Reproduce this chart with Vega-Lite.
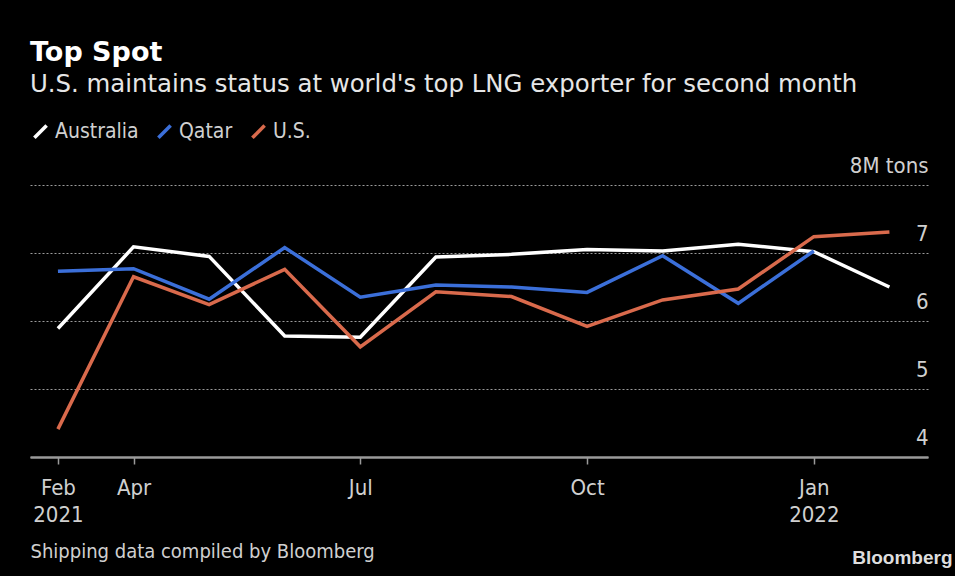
{
  "$schema": "https://vega.github.io/schema/vega-lite/v6.json",
  "width": 898,
  "height": 272,
  "autosize": {"type": "none"},
  "padding": {"left": 30, "top": 185, "right": 27, "bottom": 119},
  "background": "#000000",
  "title": {
    "text": "Top Spot",
    "subtitle": "U.S. maintains status at world's top LNG exporter for second month",
    "anchor": "start",
    "frame": "group",
    "font": "DejaVu Sans",
    "fontSize": 27,
    "fontWeight": "bold",
    "color": "#ffffff",
    "subtitleFont": "DejaVu Sans",
    "subtitleFontSize": 24.4,
    "subtitleColor": "#e6e6e6",
    "subtitlePadding": 6,
    "offset": 24
  },
  "data": {
    "values": [
      {"month": "2021-02", "country": "Australia", "tons": 5.89},
      {"month": "2021-04", "country": "Australia", "tons": 7.09},
      {"month": "2021-05", "country": "Australia", "tons": 6.95},
      {"month": "2021-06", "country": "Australia", "tons": 5.78},
      {"month": "2021-07", "country": "Australia", "tons": 5.76},
      {"month": "2021-08", "country": "Australia", "tons": 6.94},
      {"month": "2021-09", "country": "Australia", "tons": 6.98},
      {"month": "2021-10", "country": "Australia", "tons": 7.05},
      {"month": "2021-11", "country": "Australia", "tons": 7.03},
      {"month": "2021-12", "country": "Australia", "tons": 7.13},
      {"month": "2022-01", "country": "Australia", "tons": 7.02},
      {"month": "2022-02", "country": "Australia", "tons": 6.5},
      {"month": "2021-02", "country": "Qatar", "tons": 6.73},
      {"month": "2021-04", "country": "Qatar", "tons": 6.77},
      {"month": "2021-05", "country": "Qatar", "tons": 6.32},
      {"month": "2021-06", "country": "Qatar", "tons": 7.08},
      {"month": "2021-07", "country": "Qatar", "tons": 6.35},
      {"month": "2021-08", "country": "Qatar", "tons": 6.53},
      {"month": "2021-09", "country": "Qatar", "tons": 6.5},
      {"month": "2021-10", "country": "Qatar", "tons": 6.42},
      {"month": "2021-11", "country": "Qatar", "tons": 6.96},
      {"month": "2021-12", "country": "Qatar", "tons": 6.26},
      {"month": "2022-01", "country": "Qatar", "tons": 7.03},
      {"month": "2021-02", "country": "U.S.", "tons": 4.41},
      {"month": "2021-04", "country": "U.S.", "tons": 6.65},
      {"month": "2021-05", "country": "U.S.", "tons": 6.24},
      {"month": "2021-06", "country": "U.S.", "tons": 6.76},
      {"month": "2021-07", "country": "U.S.", "tons": 5.62},
      {"month": "2021-08", "country": "U.S.", "tons": 6.43},
      {"month": "2021-09", "country": "U.S.", "tons": 6.36},
      {"month": "2021-10", "country": "U.S.", "tons": 5.92},
      {"month": "2021-11", "country": "U.S.", "tons": 6.31},
      {"month": "2021-12", "country": "U.S.", "tons": 6.47},
      {"month": "2022-01", "country": "U.S.", "tons": 7.24},
      {"month": "2022-02", "country": "U.S.", "tons": 7.31}
    ]
  },
  "mark": {"type": "line", "strokeWidth": 3.5, "strokeJoin": "miter"},
  "encoding": {
    "x": {
      "field": "month",
      "type": "ordinal",
      "scale": {"type": "point", "padding": 0.44, "align": 0.42},
      "axis": {
        "values": ["2021-02", "2021-04", "2021-07", "2021-10", "2022-01"],
        "labelExpr": "datum.value == '2021-02' ? ['Feb', '2021'] : datum.value == '2022-01' ? ['Jan', '2022'] : datum.value == '2021-04' ? 'Apr' : datum.value == '2021-07' ? 'Jul' : 'Oct'",
        "labelAngle": 0,
        "labelFont": "DejaVu Sans Condensed, Liberation Sans Narrow, DejaVu Sans",
        "labelFontSize": 22,
        "labelColor": "#d0d0d0",
        "labelLineHeight": 27,
        "labelPadding": 13,
        "domainColor": "#9a9a9a",
        "domainWidth": 2.5,
        "tickColor": "#9a9a9a",
        "tickWidth": 1.5,
        "tickSize": 7,
        "grid": false,
        "title": "Shipping data compiled by Bloomberg",
        "titleFont": "DejaVu Sans Condensed, Liberation Sans Narrow, DejaVu Sans",
        "titleFontSize": 20,
        "titleFontWeight": "normal",
        "titleColor": "#d0d0d0",
        "titleAnchor": "start",
        "titleAlign": "left",
        "titlePadding": 16
      }
    },
    "y": {
      "field": "tons",
      "type": "quantitative",
      "scale": {"domain": [4, 8]},
      "axis": {
        "orient": "right",
        "values": [4, 5, 6, 7, 8],
        "labelExpr": "datum.value == 8 ? '8M tons' : datum.label",
        "labelAlign": "right",
        "labelBaseline": "alphabetic",
        "labelOffset": -13,
        "labelPadding": 0,
        "tickSize": 0,
        "ticks": false,
        "domain": false,
        "grid": true,
        "gridColor": "#9a9a9a",
        "gridDash": [2, 2],
        "gridWidth": 1,
        "labelFont": "DejaVu Sans Condensed, Liberation Sans Narrow, DejaVu Sans",
        "labelFontSize": 22,
        "labelColor": "#d0d0d0",
        "title": "Bloomberg",
        "titleAngle": 0,
        "titleAlign": "right",
        "titleBaseline": "alphabetic",
        "titleX": 24,
        "titleY": 378,
        "titleFont": "Liberation Sans",
        "titleFontSize": 19,
        "titleFontWeight": "bold",
        "titleColor": "#dedede"
      }
    },
    "color": {
      "field": "country",
      "type": "nominal",
      "scale": {"domain": ["Australia", "Qatar", "U.S."], "range": ["#ffffff", "#3b6fd9", "#d96a4c"]},
      "legend": {
        "title": null,
        "orient": "top",
        "direction": "horizontal",
        "symbolType": "M-1,1L1,-1",
        "symbolSize": 150,
        "symbolStrokeWidth": 3.5,
        "labelFont": "DejaVu Sans Condensed, Liberation Sans Narrow, DejaVu Sans",
        "labelFontSize": 21,
        "labelColor": "#d0d0d0",
        "labelOffset": 4,
        "columnPadding": 12,
        "offset": 40
      }
    }
  },
  "config": {
    "view": {"stroke": null}
  }
}
